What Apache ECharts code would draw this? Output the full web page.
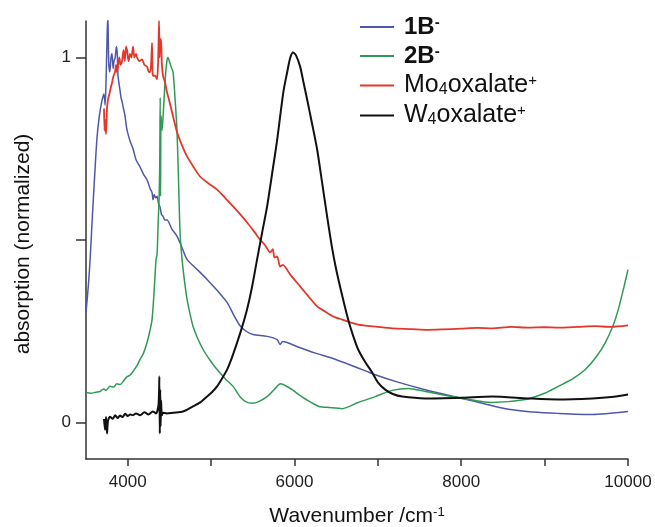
<!DOCTYPE html>
<html>
<head>
<meta charset="utf-8">
<script src="https://cdn.jsdelivr.net/npm/echarts@6/dist/echarts.min.js"></script>
<style>
  html, body { margin: 0; padding: 0; background: #fff; }
  #chart { width: 655px; height: 527px; }
</style>
</head>
<body>
<div id="chart"></div>
<script>
// Wavenumber (cm-1) / normalized absorption pairs
const blue1B = [
    [3500, 0.30], [3530, 0.38], [3550, 0.45], [3580, 0.58], [3610, 0.70], [3632, 0.78], [3660, 0.84],
    [3690, 0.88], [3715, 0.90], [3730, 0.87], [3742, 0.95], [3752, 1.05], [3762, 1.12], [3772, 0.99],
    [3785, 0.96], [3800, 1.0], [3812, 1.01], [3825, 0.97], [3836, 0.99], [3850, 1.0], [3865, 1.03],
    [3875, 1.01], [3884, 0.95], [3895, 0.93], [3908, 0.91], [3920, 0.89], [3932, 0.88], [3950, 0.86],
    [3968, 0.84], [3985, 0.81], [4004, 0.79], [4030, 0.77], [4064, 0.75], [4100, 0.72], [4148, 0.70],
    [4190, 0.68], [4232, 0.665], [4270, 0.64], [4292, 0.63], [4304, 0.61], [4318, 0.625], [4335, 0.615],
    [4352, 0.62], [4370, 0.60], [4388, 0.59], [4405, 0.57], [4424, 0.565], [4445, 0.555], [4472, 0.555],
    [4530, 0.53], [4592, 0.51], [4650, 0.48], [4712, 0.447], [4830, 0.42], [4952, 0.392], [5080, 0.36],
    [5192, 0.329], [5270, 0.295], [5348, 0.265], [5420, 0.25], [5504, 0.241], [5672, 0.236], [5792, 0.227],
    [5828, 0.214], [5860, 0.222], [5912, 0.219], [6068, 0.205], [6250, 0.19], [6428, 0.178], [6700, 0.155],
    [6968, 0.131], [7250, 0.11], [7568, 0.09], [8012, 0.066], [8300, 0.05], [8564, 0.036], [8850, 0.029],
    [9164, 0.025], [9572, 0.022], [10000, 0.03]
];

const green2B = [
    [3500, 0.082], [3560, 0.08], [3620, 0.083], [3668, 0.085], [3710, 0.092], [3740, 0.088], [3788, 0.099],
    [3830, 0.097], [3870, 0.106], [3910, 0.104], [3944, 0.112], [3990, 0.125], [4030, 0.13], [4064, 0.14],
    [4110, 0.155], [4148, 0.173], [4190, 0.19], [4232, 0.219], [4265, 0.25], [4292, 0.282], [4316, 0.356],
    [4340, 0.447], [4352, 0.46], [4366, 0.55], [4376, 0.61], [4384, 0.70], [4390, 0.89], [4394, 0.62],
    [4400, 0.84], [4412, 0.80], [4430, 0.86], [4450, 0.94], [4470, 0.99], [4484, 1.0], [4500, 0.99],
    [4520, 0.975], [4544, 0.96], [4570, 0.88], [4592, 0.795], [4610, 0.66], [4628, 0.52], [4652, 0.447],
    [4680, 0.39], [4712, 0.337], [4750, 0.295], [4784, 0.263], [4840, 0.23], [4904, 0.2], [4990, 0.17],
    [5072, 0.145], [5170, 0.12], [5264, 0.099], [5350, 0.07], [5432, 0.055], [5500, 0.053], [5552, 0.055],
    [5672, 0.071], [5792, 0.099], [5830, 0.106], [5864, 0.104], [5900, 0.1], [5972, 0.09], [6060, 0.075],
    [6140, 0.063], [6296, 0.044], [6416, 0.041], [6572, 0.038], [6764, 0.055], [6968, 0.071], [7172, 0.088],
    [7364, 0.093], [7568, 0.085], [7964, 0.068], [8372, 0.055], [8768, 0.063], [9000, 0.08], [9164, 0.099],
    [9340, 0.12], [9488, 0.145], [9620, 0.18], [9728, 0.219], [9820, 0.265], [9884, 0.31], [9950, 0.37],
    [10000, 0.419]
];

const redMo = [
    [3716, 0.86], [3722, 0.80], [3728, 0.83], [3740, 0.79], [3752, 0.86], [3764, 0.885], [3780, 0.90],
    [3800, 0.92], [3812, 0.93], [3830, 0.95], [3848, 0.96], [3860, 0.98], [3870, 0.96], [3884, 0.975],
    [3900, 1.0], [3915, 0.98], [3932, 0.99], [3950, 1.02], [3965, 0.99], [3980, 1.03], [3992, 1.02],
    [4010, 0.99], [4028, 1.01], [4045, 1.0], [4064, 1.03], [4080, 1.0], [4100, 1.01], [4112, 1.0],
    [4140, 0.99], [4172, 0.995], [4200, 0.98], [4232, 0.975], [4255, 0.96], [4268, 0.96], [4280, 0.98],
    [4292, 1.04], [4298, 0.96], [4304, 0.95], [4330, 0.95], [4352, 0.94], [4365, 0.99], [4376, 1.1],
    [4382, 1.0], [4390, 1.05], [4400, 1.05], [4410, 0.98], [4424, 0.95], [4450, 0.93], [4472, 0.904],
    [4500, 0.88], [4532, 0.85], [4592, 0.795], [4650, 0.76], [4712, 0.729], [4790, 0.70], [4868, 0.674],
    [4970, 0.655], [5072, 0.638], [5170, 0.615], [5264, 0.592], [5350, 0.57], [5432, 0.548], [5510, 0.525],
    [5588, 0.501], [5650, 0.485], [5708, 0.466], [5740, 0.475], [5760, 0.452], [5792, 0.455], [5828, 0.427],
    [5860, 0.432], [5950, 0.405], [6068, 0.373], [6170, 0.345], [6272, 0.318], [6368, 0.304], [6470, 0.29],
    [6572, 0.282], [6764, 0.268], [7000, 0.262], [7172, 0.258], [7400, 0.256], [7600, 0.254], [7772, 0.255],
    [8000, 0.257], [8200, 0.259], [8372, 0.258], [8600, 0.262], [8800, 0.26], [9000, 0.261], [9164, 0.26],
    [9400, 0.262], [9600, 0.264], [9800, 0.262], [10000, 0.266]
];

const blackW = [
    [3716, 0.01], [3728, -0.02], [3740, 0.015], [3752, -0.03], [3764, 0.005], [3788, 0.016], [3820, 0.01],
    [3850, 0.02], [3880, 0.012], [3908, 0.019], [3940, 0.015], [3970, 0.024], [4000, 0.018], [4030, 0.022],
    [4064, 0.02], [4100, 0.025], [4150, 0.02], [4200, 0.028], [4250, 0.022], [4300, 0.03], [4340, 0.025],
    [4370, 0.05], [4380, 0.126], [4385, -0.03], [4390, 0.09], [4395, -0.01], [4400, 0.06], [4410, 0.02],
    [4424, 0.027], [4470, 0.025], [4544, 0.027], [4664, 0.03], [4784, 0.044], [4870, 0.055], [4952, 0.071],
    [5010, 0.083], [5072, 0.099], [5130, 0.12], [5192, 0.145], [5250, 0.178], [5312, 0.219], [5370, 0.26],
    [5432, 0.31], [5490, 0.37], [5552, 0.447], [5612, 0.52], [5672, 0.592], [5744, 0.70], [5790, 0.77],
    [5828, 0.838], [5870, 0.91], [5912, 0.959], [5950, 1.0], [5984, 1.014], [6020, 1.005], [6068, 0.975],
    [6110, 0.93], [6152, 0.885], [6210, 0.82], [6272, 0.748], [6330, 0.66], [6392, 0.564], [6450, 0.48],
    [6500, 0.42], [6570, 0.35], [6644, 0.282], [6700, 0.24], [6764, 0.2], [6850, 0.165], [6932, 0.137],
    [7000, 0.11], [7088, 0.09], [7180, 0.078], [7292, 0.071], [7568, 0.066], [8000, 0.068], [8372, 0.071],
    [8800, 0.066], [9164, 0.063], [9572, 0.066], [9800, 0.07], [10000, 0.077]
];

const seriesNames = ['1B-', '2B-', 'Mo4oxalate+', 'W4oxalate+'];
const seriesColors = ['#4f57a8', '#2f9a54', '#e5362a', '#111111'];
const legendText = {
    '1B-': '{b|1B}{bsup|-}',
    '2B-': '{b|2B}{bsup|-}',
    'Mo4oxalate+': '{n|Mo}{sub|4}{n|oxalate}{sup|+}',
    'W4oxalate+': '{n|W}{sub|4}{n|oxalate}{sup|+}'
};
const xTicks = [4000, 5000, 6000, 7000, 8000, 9000, 10000];
const xLabels = [4000, 6000, 8000, 10000];
const yTicks = [0, 0.5, 1];
const yLabels = [0, 1];

const FONT = 'Liberation Sans, Arial, sans-serif';
const chart = echarts.init(document.getElementById('chart'));

const seriesData = [blue1B, green2B, redMo, blackW];
const widths = [1.5, 1.5, 1.8, 2];

chart.setOption({
    animation: false,
    textStyle: { fontFamily: FONT },
    grid: { left: 86, right: 27, top: 21, bottom: 68, outerBoundsMode: 'none' },
    legend: {
        orient: 'vertical',
        left: 360,
        top: 15,
        padding: 0,
        itemGap: 5,
        itemWidth: 34,
        itemHeight: 2,
        icon: 'rect',
        data: seriesNames,
        formatter: name => legendText[name],
        textStyle: {
            fontFamily: FONT,
            color: '#111',
            lineHeight: 24,
            padding: [0, 0, 0, 5],
            rich: {
                b: { fontSize: 24, fontWeight: 'bold', lineHeight: 24, color: '#111', fontFamily: FONT },
                bsup: { fontSize: 15, fontWeight: 'bold', lineHeight: 10, verticalAlign: 'top', color: '#111', fontFamily: FONT },
                n: { fontSize: 25, lineHeight: 24, color: '#111', fontFamily: FONT },
                sub: { fontSize: 16, lineHeight: 8, verticalAlign: 'bottom', color: '#111', fontFamily: FONT },
                sup: { fontSize: 15, lineHeight: 10, verticalAlign: 'top', color: '#111', fontFamily: FONT }
            }
        }
    },
    xAxis: {
        type: 'value',
        min: 3500,
        max: 10000,
        name: 'Wavenumber /cm{sup|-1}',
        nameLocation: 'middle',
        nameGap: 47,
        nameTextStyle: {
            fontSize: 21, color: '#111', fontFamily: FONT,
            rich: { sup: { fontSize: 13, verticalAlign: 'top', lineHeight: 10, color: '#111', fontFamily: FONT } }
        },
        axisLine: { show: true, onZero: false, lineStyle: { color: '#333', width: 1.5 } },
        axisTick: { show: true, customValues: xTicks, length: 7, lineStyle: { color: '#333', width: 1.5 } },
        axisLabel: {
            customValues: xLabels, fontSize: 17, color: '#222', margin: 15, fontFamily: FONT,
            formatter: v => String(v)
        },
        splitLine: { show: false }
    },
    yAxis: {
        type: 'value',
        min: -0.1,
        max: 1.1,
        name: 'absorption (normalized)',
        nameLocation: 'middle',
        nameGap: 52,
        nameTextStyle: { fontSize: 21, color: '#111', fontFamily: FONT, padding: [0, 8, 0, 0] },
        axisLine: { show: true, onZero: false, lineStyle: { color: '#333', width: 1.5 } },
        axisTick: { show: true, customValues: yTicks, length: 10, lineStyle: { color: '#333', width: 1.5 } },
        axisLabel: { customValues: yLabels, fontSize: 17, color: '#222', margin: 15, fontFamily: FONT },
        splitLine: { show: false }
    },
    series: seriesNames.map((name, i) => ({
        name: name,
        type: 'line',
        data: seriesData[i],
        showSymbol: false,
        symbol: 'none',
        smooth: 0.25,
        color: seriesColors[i],
        lineStyle: { color: seriesColors[i], width: widths[i] },
        clip: true
    }))
});
</script>
</body>
</html>
